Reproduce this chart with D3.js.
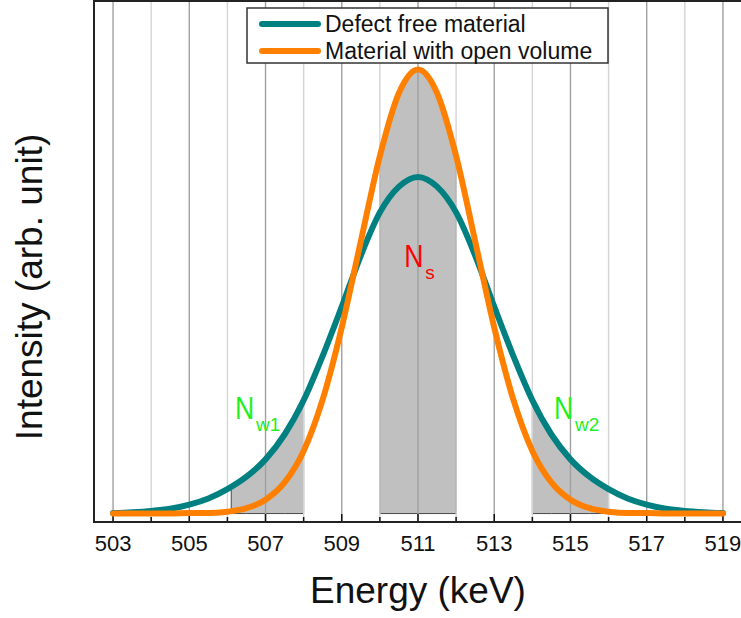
<!DOCTYPE html>
<html>
<head>
<meta charset="utf-8">
<script src="https://cdn.jsdelivr.net/npm/d3@7"></script>
<style>
  body { margin: 0; background: #fff; }
  text { font-family: "Liberation Sans", Arial, sans-serif; }
</style>
</head>
<body>
<div class="chart"></div>
<script>
// energy axis (keV) and the two spectra
const energy = [503, 503.5, 504, 504.5, 505, 505.5, 506, 506.5, 507, 507.5, 508, 508.5,
  509, 509.5, 510, 510.5, 511, 511.5, 512, 512.5, 513, 513.5, 514, 514.5,
  515, 515.5, 516, 516.5, 517, 517.5, 518, 518.5, 519];

const defectFree = [0.001, 0.003, 0.006, 0.011, 0.020, 0.034, 0.055, 0.083, 0.122, 0.178, 0.255, 0.355,
  0.466, 0.581, 0.678, 0.736, 0.758, 0.736, 0.678, 0.581, 0.466, 0.355, 0.255, 0.178,
  0.122, 0.083, 0.055, 0.034, 0.020, 0.011, 0.006, 0.003, 0.001];

const openVolume = [0, 0, 0, 0, 0.001, 0.001, 0.004, 0.012, 0.031, 0.070, 0.141, 0.257,
  0.419, 0.613, 0.805, 0.947, 1.000, 0.947, 0.805, 0.613, 0.419, 0.257, 0.141, 0.070,
  0.031, 0.012, 0.004, 0.001, 0.001, 0, 0, 0, 0];

const tickLabels = ["503", "505", "507", "509", "511", "513", "515", "517", "519"];
const gridTicks = [503, 504, 505, 506, 507, 508, 509, 510, 511, 512, 513, 514, 515, 516, 517, 518, 519];

// integration windows: S parameter (centre) and W parameter (wings)
const windowW1 = [506.1, 508];
const windowS = [510, 512];
const windowW2 = [514, 516];

const seriesNames = ["Defect free material", "Material with open volume"];
const seriesColors = ["#008080", "#ff8000"];

const width = 741, height = 618;
const plot = { left: 94, right: 742, top: 1, bottom: 522 };

const svg = d3.select(".chart").append("svg")
  .attr("width", width)
  .attr("height", height);

const x = d3.scaleLinear().domain([502.5, 519.5]).range([plot.left, plot.right]);
const y = d3.scaleLinear().domain([-0.019, 1.154]).range([plot.bottom, plot.top]);

const teal = energy.map((e, i) => ({ e: e, v: defectFree[i] }));
const orange = energy.map((e, i) => ({ e: e, v: openVolume[i] }));

// value of a series at any energy (linear between samples)
function valueAt(pts, e) {
  for (let i = 0; i < pts.length - 1; i++) {
    if (e >= pts[i].e && e <= pts[i + 1].e) {
      const t = (e - pts[i].e) / (pts[i + 1].e - pts[i].e);
      return pts[i].v + t * (pts[i + 1].v - pts[i].v);
    }
  }
  return 0;
}

function windowPoints(pts, win) {
  const inside = pts.filter(d => d.e > win[0] && d.e < win[1]);
  return [{ e: win[0], v: valueAt(pts, win[0]) }]
    .concat(inside)
    .concat([{ e: win[1], v: valueAt(pts, win[1]) }]);
}

const area = d3.area()
  .x(d => x(d.e))
  .y0(y(0))
  .y1(d => y(d.v))
  .curve(d3.curveMonotoneX);

const line = d3.line()
  .x(d => x(d.e))
  .y(d => y(d.v))
  .curve(d3.curveMonotoneX);

// shaded windows
const fills = [
  windowPoints(teal, windowW1),
  windowPoints(orange, windowS),
  windowPoints(teal, windowW2)
];

svg.append("g")
  .selectAll("path")
  .data(fills)
  .join("path")
  .attr("d", d => area(d))
  .attr("fill", "#c0c0c0")
  .attr("stroke", "#4a4a4a")
  .attr("stroke-width", 1);

// vertical grid
svg.append("g")
  .selectAll("line")
  .data(gridTicks)
  .join("line")
  .attr("x1", d => x(d))
  .attr("x2", d => x(d))
  .attr("y1", plot.top)
  .attr("y2", plot.bottom)
  .attr("stroke", d => d % 2 === 1 ? "#a0a0a0" : "#d4d4d4")
  .attr("stroke-width", 1.4);

// bottom axis with inward ticks
const axis = svg.append("g");
axis.selectAll("line.tick")
  .data(gridTicks)
  .join("line")
  .attr("class", "tick")
  .attr("x1", d => x(d))
  .attr("x2", d => x(d))
  .attr("y1", plot.bottom)
  .attr("y2", d => d % 2 === 1 ? plot.bottom - 8 : plot.bottom - 5)
  .attr("stroke", "#111")
  .attr("stroke-width", 1.5);

axis.selectAll("text")
  .data(tickLabels)
  .join("text")
  .attr("x", d => x(+d))
  .attr("y", 551)
  .attr("text-anchor", "middle")
  .attr("font-size", 22)
  .attr("fill", "#111")
  .text(d => d);

// frame
svg.append("path")
  .attr("d", `M${plot.right},${plot.top}H${plot.left}V${plot.bottom}H${plot.right}`)
  .attr("fill", "none")
  .attr("stroke", "#222")
  .attr("stroke-width", 2);

// the two spectra
svg.append("g")
  .selectAll("path")
  .data([teal, orange])
  .join("path")
  .attr("d", d => line(d))
  .attr("fill", "none")
  .attr("stroke", (d, i) => seriesColors[i])
  .attr("stroke-width", 6)
  .attr("stroke-linecap", "round");

// N labels
const labels = [
  { e: 506.2, v: 0.214, sub: "w1", color: "#1ef01e" },
  { e: 510.64, v: 0.555, sub: "s", color: "#ff0000" },
  { e: 514.57, v: 0.214, sub: "w2", color: "#1ef01e" }
];

labels.forEach(l => {
  svg.append("text")
    .attr("transform", `translate(${x(l.e)},${y(l.v)}) scale(0.86,1)`)
    .attr("font-size", 31)
    .attr("fill", l.color)
    .text("N");
  svg.append("text")
    .attr("x", x(l.e) + 21)
    .attr("y", y(l.v) + 12)
    .attr("font-size", 19)
    .attr("fill", l.color)
    .text(l.sub);
});

// axis titles
svg.append("text")
  .attr("x", (plot.left + plot.right) / 2)
  .attr("y", 603)
  .attr("text-anchor", "middle")
  .attr("font-size", 37)
  .attr("fill", "#111")
  .text("Energy (keV)");

svg.append("text")
  .attr("transform", "translate(42,287) rotate(-90)")
  .attr("text-anchor", "middle")
  .attr("font-size", 37)
  .attr("fill", "#111")
  .text("Intensity (arb. unit)");

// legend
const legend = svg.append("g");
legend.append("rect")
  .attr("x", 247)
  .attr("y", 8)
  .attr("width", 361)
  .attr("height", 55)
  .attr("fill", "#fff")
  .attr("stroke", "#333")
  .attr("stroke-width", 1.5);

legend.selectAll("line")
  .data(seriesNames)
  .join("line")
  .attr("x1", 262)
  .attr("x2", 318)
  .attr("y1", (d, i) => 24 + i * 27)
  .attr("y2", (d, i) => 24 + i * 27)
  .attr("stroke", (d, i) => seriesColors[i])
  .attr("stroke-width", 6)
  .attr("stroke-linecap", "round");

legend.selectAll("text")
  .data(seriesNames)
  .join("text")
  .attr("x", 325)
  .attr("y", (d, i) => 32 + i * 27)
  .attr("font-size", 23)
  .attr("fill", "#111")
  .text(d => d);
</script>
</body>
</html>
